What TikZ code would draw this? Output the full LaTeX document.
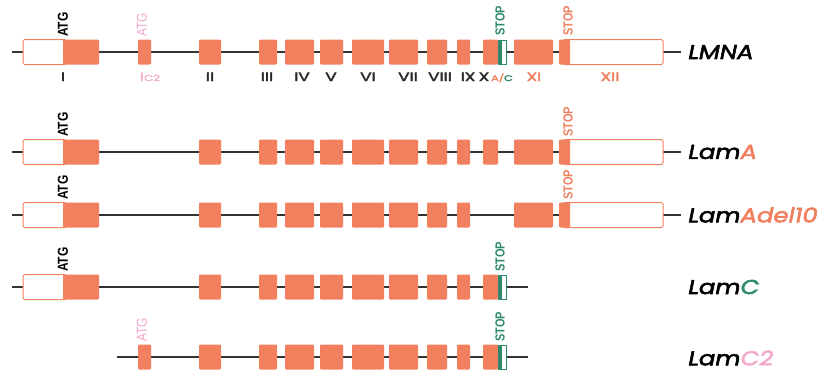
\documentclass[tikz,border=0pt]{standalone}
\usepackage{fontspec}
\setmainfont{Liberation Sans}
\newfontfamily\labfont[FakeStretch=1.22,FakeBold=2.8,FakeSlant=0.2]{Poppins}
\newfontfamily\numfont[FakeStretch=1.4,FakeBold=3.4]{Poppins}
\newfontfamily\numlight[FakeStretch=1.4,FakeBold=1]{Poppins}
\definecolor{exon}{HTML}{F2805F}
\definecolor{stopgreen}{HTML}{2E8A6A}
\definecolor{pinkc}{HTML}{F2A7CB}
\definecolor{orangetxt}{HTML}{EF7F5E}
\definecolor{linegray}{HTML}{333333}
\definecolor{numgray}{HTML}{2A2A2A}
\newcommand\exrow[2]{\foreach \a/\b in {#2} {\fill[exonbox] (\a,{#1-12.5}) rectangle (\b,{#1+12.5});}}
\newcommand\utr[3]{\draw[utrbox] (#2,{#1-12.5}) rectangle (#3,{#1+12.5});}
\newcommand\greenstop[1]{\fill[stopgreen] (497.5,{#1-12.5}) rectangle (501,{#1+12.5});
  \draw[stopgreen,line width=0.8pt,fill=white] (501,{#1-12.1}) rectangle (506.6,{#1+12.1});}
\begin{document}
\begin{tikzpicture}[x=1pt,y=-1pt,
  exonbox/.style={fill=exon,rounded corners=1.2pt},
  utrbox/.style={fill=white,draw=exon,line width=1pt,rounded corners=1.5pt},
  intron/.style={draw=linegray,line width=1.6pt},
  atg/.style={rotate=90,yscale=1.2,anchor=west,inner sep=0pt,font=\bfseries\fontsize{12}{12}\selectfont,text=black},
  atgpink/.style={atg,font=\fontsize{12}{12}\selectfont,text=pinkc},
  stopg/.style={atg,font=\bfseries\fontsize{11}{11}\selectfont,text=stopgreen},
  stopo/.style={stopg,text=orangetxt},
  num/.style={inner sep=0pt,anchor=base,font=\numfont\fontsize{12}{12}\selectfont,text=numgray},
  rowlab/.style={inner sep=0pt,anchor=west,font=\labfont\fontsize{20}{20}\selectfont,text=black}]
\useasboundingbox (0,0) rectangle (829,372);
% ---------- Row 1: LMNA ----------
\draw[intron] (12,52) -- (681,52);
\utr{52}{23}{66}
\utr{52}{563}{663}
\exrow{52}{63/99,138/151,199/221,259/277,285/314,320/343,352/384,389/418,427/447,457/470,483/498,514/553,559/570}
\greenstop{52}
\node[atg] (atg1) at (63,37) {ATG};
\node[atgpink] (atg1c) at (142,37) {ATG};
\node[stopg] (stop1g) at (500,36) {STOP};
\node[stopo] (stop1o) at (568,36) {STOP};
\node[num] (nI) at (63,81) {I};
\node[num,text=pinkc,font=\numlight\fontsize{12}{12}\selectfont] (nIc) at (150,81) {I{\fontsize{8.5}{9}\selectfont C2}};
\node[num] (nII) at (210,81) {II};
\node[num] (nIII) at (267,81) {III};
\node[num] (nIV) at (302,81) {IV};
\node[num] (nV) at (331,81) {V};
\node[num] (nVI) at (368,81) {VI};
\node[num] (nVII) at (408,81) {VII};
\node[num] (nVIII) at (440,81) {VIII};
\node[num] (nIX) at (468,81) {IX};
\node[num] (nX) at (484,81) {X};
\node[num,font=\numfont\fontsize{8}{8}\selectfont] (nAC) at (502,81) {\textcolor{orangetxt}{A/}\textcolor{stopgreen}{C}};
\node[num,text=orangetxt] (nXI) at (534,81) {XI};
\node[num,text=orangetxt] (nXII) at (610,81) {XII};
\node[rowlab] (lmna) at (687,52) {LMNA};
% ---------- Row 2: LamA ----------
\draw[intron] (12,152) -- (681,152);
\utr{152}{23}{66}
\utr{152}{563}{663}
\exrow{152}{63/99,199/221,259/277,285/314,320/343,352/384,389/418,427/447,457/470,483/498,514/553,559/570}
\node[atg] (atg2) at (63,137) {ATG};
\node[stopo] (stop2) at (568,137) {STOP};
\node[rowlab] (lama) at (687,152) {Lam\textcolor{orangetxt}{A}};
% ---------- Row 3: LamAdel10 ----------
\draw[intron] (12,215) -- (681,215);
\utr{215}{23}{66}
\utr{215}{563}{663}
\exrow{215}{63/99,199/221,259/277,285/314,320/343,352/384,389/418,427/447,457/470,514/553,559/570}
\node[atg] (atg3) at (63,200) {ATG};
\node[stopo] (stop3) at (568,200) {STOP};
\node[rowlab] (lamadel) at (687,215) {Lam\textcolor{orangetxt}{Adel10}};
% ---------- Row 4: LamC ----------
\draw[intron] (12,287) -- (528,287);
\utr{287}{23}{66}
\exrow{287}{63/99,199/221,259/277,285/314,320/343,352/384,389/418,427/447,457/470,483/498}
\greenstop{287}
\node[atg] (atg4) at (63,272) {ATG};
\node[stopg] (stop4) at (500,272) {STOP};
\node[rowlab] (lamc) at (687,287) {Lam\textcolor{stopgreen}{C}};
% ---------- Row 5: LamC2 ----------
\draw[intron] (117,357) -- (528,357);
\exrow{357}{138/151,199/221,259/277,285/314,320/343,352/384,389/418,427/447,457/470,483/498}
\greenstop{357}
\node[atgpink] (atg5) at (142,342) {ATG};
\node[stopg] (stop5) at (500,342) {STOP};
\node[rowlab] (lamc2) at (687,358) {Lam\textcolor{pinkc}{C2}};
\end{tikzpicture}
\end{document}
